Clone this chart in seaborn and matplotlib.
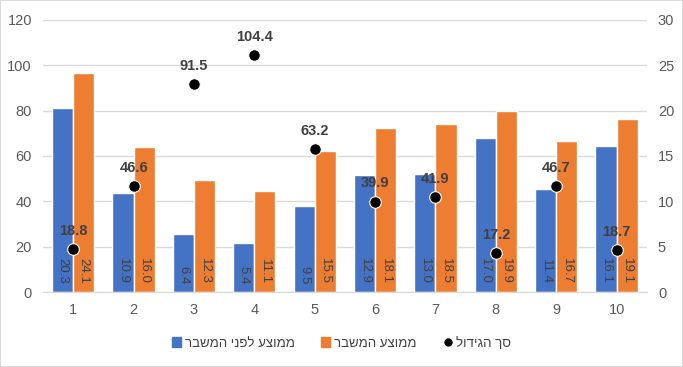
import pandas as pd
import numpy as np
import matplotlib
matplotlib.use('Agg')
import matplotlib.pyplot as plt
import seaborn as sns
from matplotlib.lines import Line2D
from matplotlib.patches import Patch

# data
categories = ['1', '2', '3', '4', '5', '6', '7', '8', '9', '10']
before_crisis = [20.3, 10.9, 6.4, 5.4, 9.5, 12.9, 13.0, 17.0, 11.4, 16.1]
during_crisis = [24.1, 16.0, 12.3, 11.1, 15.5, 18.1, 18.5, 19.9, 16.7, 19.1]
total_growth = [18.8, 46.6, 91.5, 104.4, 63.2, 39.9, 41.9, 17.2, 46.7, 18.7]

series_names = ['ממוצע לפני המשבר', 'ממוצע המשבר', 'סך הגידול']
colors = ['#4472C4', '#ED7D31', '#000000']


def rtl(s):
    # matplotlib has no bidi support, flip Hebrew for display
    return s[::-1]


sns.set_style('white')
plt.rcParams['font.family'] = ['Liberation Sans', 'DejaVu Sans']

df = pd.DataFrame({
    'cat': categories * 2,
    'value': before_crisis + during_crisis,
    'series': [series_names[0]] * 10 + [series_names[1]] * 10,
})

fig = plt.figure(figsize=(6.83, 3.67), dpi=100)
fig.patch.set_edgecolor('#D9D9D9')
fig.patch.set_linewidth(1.2)
ax = fig.add_axes([0.063, 0.204, 0.884, 0.742])

# bars on the 0-30 scale (shown on the right)
sns.barplot(data=df, x='cat', y='value', hue='series', palette=colors[:2],
            width=0.7, gap=0, saturation=1, ax=ax, legend=False)
ax.set_ylim(0, 30)
ax.set_yticks(np.arange(0, 31, 5))
ax.grid(axis='y', color='#D9D9D9', linewidth=1)
ax.set_axisbelow(True)
ax.set_xlabel('')
ax.set_ylabel('')
ax.set_xlim(-0.5, 9.5)

for cont, vals in zip(ax.containers, [before_crisis, during_crisis]):
    for p, v in zip(cont.patches, vals):
        ax.text(p.get_x() + p.get_width() / 2, 0.9, f'{v:.1f}', rotation=270,
                ha='center', va='bottom', fontsize=9.5, color='#404040')

# dots on the 0-120 scale (shown on the left)
ax2 = ax.twinx()
ax.yaxis.tick_right()
ax2.yaxis.tick_left()
sns.scatterplot(x=np.arange(len(categories)), y=total_growth, color='black',
                s=70, edgecolor='white', linewidth=0.8, ax=ax2, zorder=5)
ax2.set_ylim(0, 120)
ax2.set_yticks(np.arange(0, 121, 20))
for i, v in enumerate(total_growth):
    ax2.annotate(f'{v:.1f}', (i, v), xytext=(0, 8), textcoords='offset points',
                 ha='center', va='bottom', fontsize=10.5, fontweight='bold',
                 color='#404040')

for a in (ax, ax2):
    for s in ['top', 'left', 'right']:
        a.spines[s].set_visible(False)
    a.spines['bottom'].set_color('#D9D9D9')
    a.tick_params(axis='both', length=0, labelsize=10.5, colors='#595959', pad=8)

handles = [Patch(color=colors[0], label=rtl(series_names[0])),
           Patch(color=colors[1], label=rtl(series_names[1])),
           Line2D([], [], marker='o', color='black', linestyle='none',
                  markersize=5, label=rtl(series_names[2]))]
fig.legend(handles=handles, loc='center', bbox_to_anchor=(0.5, 0.065), ncol=3,
           frameon=False, fontsize=9.5, handlelength=0.7, handleheight=0.7,
           handletextpad=0.3, columnspacing=2.0, labelcolor='#404040')

fig.savefig('out.png', dpi=100)
